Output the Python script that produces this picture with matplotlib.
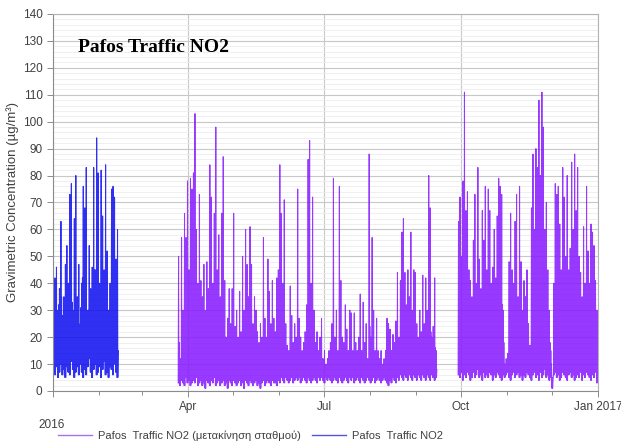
import numpy as np
import pandas as pd
import matplotlib
matplotlib.use('Agg')
import matplotlib.pyplot as plt
import matplotlib.dates as mdates
from matplotlib.lines import Line2D

# --- Données (valeurs journalières approx.) ---
blue_start = '2016-01-01'
blue_peak = [14, 42, 46, 30, 38, 63, 28, 35, 47, 54,
             40, 73, 77, 30, 64, 80, 35, 47, 25, 40,
             76, 68, 83, 30, 54, 38, 46, 83, 45, 94,
             81, 40, 82, 65, 45, 84, 52, 30, 40, 75,
             76, 72, 49, 60]
blue_mid = [12, 28, 18, 32, 25, 35, 22, 30, 27, 38,
            24, 40, 33, 21, 36, 29, 26, 19, 31, 42,
            28, 35, 24, 30, 37, 22, 34, 45, 29, 38,
            32, 25, 40, 27, 33, 36, 23, 30, 28, 35,
            41, 26, 32, 15]
blue_low = [8, 6, 9, 5, 7, 10, 6, 8, 5, 9,
            7, 6, 11, 8, 5, 7, 9, 6, 10, 7,
            5, 8, 6, 9, 12, 7, 5, 8, 10, 6,
            7, 9, 5, 8, 11, 6, 7, 5, 9, 8,
            6, 10, 7, 5]

purple_a_start = '2016-03-25'
purple_a_peak = [50, 12, 57, 30, 66, 57, 78, 45, 79, 75,
                 81, 103, 60, 40, 73, 41, 35, 47, 30, 48,
                 38, 84, 72, 40, 66, 98, 45, 58, 35, 66,
                 87, 41, 20, 27, 38, 25, 38, 66, 24, 30,
                 20, 37, 22, 50, 30, 60, 47, 35, 61, 47,
                 25, 35, 30, 22, 18, 25, 20, 57, 27, 20,
                 49, 37, 25, 41, 27, 22, 42, 45, 84, 66,
                 40, 71, 25, 17, 15, 39, 28, 18, 25, 20,
                 75, 27, 20, 15, 18, 22, 32, 86, 93, 40,
                 72, 30, 18, 22, 15, 20, 27, 12, 15, 10,
                 12, 15, 18, 25, 79, 20, 30, 15, 76, 41,
                 20, 18, 32, 23, 15, 30, 29, 15, 29, 18,
                 15, 20, 36, 15, 33, 18, 25, 12, 88, 20,
                 57, 30, 15, 27, 15, 12, 15, 10, 12, 15,
                 27, 25, 23, 15, 21, 18, 26, 44, 20, 41,
                 59, 64, 44, 32, 45, 35, 59, 30, 45, 44,
                 25, 20, 30, 22, 43, 25, 42, 30, 80, 68,
                 20, 24, 42, 15]
purple_a_mid = [18, 8, 25, 20, 30, 22, 28, 24, 32, 26,
                35, 30, 28, 22, 26, 18, 20, 24, 16, 22,
                20, 30, 26, 18, 25, 32, 20, 24, 18, 22,
                28, 20, 12, 15, 18, 14, 16, 22, 12, 15,
                10, 18, 12, 20, 14, 22, 18, 15, 24, 20,
                12, 16, 14, 10, 9, 12, 10, 18, 13, 10,
                20, 15, 11, 18, 12, 10, 16, 20, 25, 22,
                15, 24, 12, 9, 8, 15, 12, 9, 11, 10,
                22, 12, 9, 8, 10, 11, 14, 25, 28, 16,
                22, 12, 9, 10, 8, 10, 12, 7, 8, 6,
                7, 8, 10, 12, 20, 10, 14, 8, 22, 16,
                10, 9, 14, 11, 8, 13, 12, 8, 12, 9,
                8, 10, 15, 8, 14, 9, 11, 7, 24, 10,
                20, 13, 8, 12, 8, 7, 8, 6, 7, 8,
                12, 11, 10, 8, 10, 9, 12, 18, 10, 16,
                22, 24, 18, 14, 20, 15, 22, 13, 18, 17,
                12, 10, 14, 11, 18, 12, 17, 14, 25, 22,
                10, 12, 16, 8]
purple_a_low = [3, 2, 4, 3, 2, 5, 3, 4, 2, 3,
                4, 3, 5, 2, 3, 4, 2, 3, 1, 4,
                3, 2, 4, 3, 5, 2, 3, 4, 2, 3,
                4, 2, 3, 1, 4, 3, 2, 4, 3, 2,
                3, 4, 2, 3, 1, 4, 3, 2, 4, 3,
                2, 3, 4, 2, 3, 1, 3, 4, 2, 3,
                4, 3, 2, 4, 3, 3, 2, 4, 3, 5,
                4, 3, 5, 4, 3, 4, 5, 3, 4, 5,
                4, 5, 3, 4, 5, 4, 3, 5, 4, 3,
                4, 5, 4, 3, 5, 4, 5, 4, 3, 5,
                4, 5, 4, 3, 4, 5, 4, 3, 5, 4,
                3, 4, 5, 4, 3, 5, 4, 5, 3, 4,
                5, 4, 3, 5, 4, 3, 4, 5, 4, 3,
                4, 5, 3, 4, 5, 4, 3, 4, 5, 4,
                3, 2, 4, 3, 5, 4, 3, 5, 4, 6,
                5, 4, 6, 5, 4, 6, 5, 4, 6, 5,
                4, 6, 5, 4, 6, 5, 4, 6, 5, 4,
                6, 5, 4, 5]

purple_b_start = '2016-09-29'
purple_b_peak = [63, 72, 50, 78, 111, 67, 74, 45, 41, 35,
                 56, 73, 40, 83, 49, 38, 67, 56, 76, 45,
                 75, 67, 40, 46, 60, 42, 65, 79, 76, 73,
                 30, 10, 12, 14, 48, 66, 45, 40, 63, 73,
                 35, 76, 48, 30, 41, 35, 45, 25, 17, 68,
                 88, 60, 90, 83, 108, 80, 111, 98, 60, 70,
                 45, 30, 15, 5, 40, 77, 73, 76, 62, 45,
                 83, 72, 50, 80, 45, 53, 85, 60, 88, 67,
                 83, 50, 44, 35, 61, 40, 76, 52, 40, 62,
                 59, 54, 41, 30]
purple_b_mid = [30, 35, 28, 40, 38, 32, 36, 25, 22, 20,
                28, 35, 24, 38, 26, 22, 32, 28, 36, 25,
                34, 30, 22, 26, 30, 24, 32, 36, 34, 32,
                18, 7, 8, 9, 24, 30, 22, 20, 28, 34,
                20, 35, 25, 18, 22, 20, 24, 15, 10, 30,
                40, 32, 42, 38, 45, 36, 48, 42, 30, 34,
                25, 18, 10, 4, 20, 35, 32, 34, 30, 24,
                38, 32, 26, 36, 24, 28, 40, 30, 38, 32,
                36, 26, 22, 20, 30, 22, 34, 26, 22, 30,
                28, 26, 20, 15]
purple_b_low = [6, 5, 7, 4, 6, 5, 7, 6, 4, 5,
                7, 5, 6, 8, 5, 6, 4, 7, 5, 6,
                5, 7, 6, 4, 6, 5, 7, 6, 5, 4,
                6, 5, 6, 7, 5, 4, 6, 7, 5, 6,
                7, 5, 6, 4, 6, 5, 7, 6, 5, 4,
                6, 7, 5, 6, 4, 7, 5, 6, 8, 5,
                6, 4, 5, 1, 6, 7, 5, 6, 4, 5,
                7, 6, 5, 4, 6, 7, 5, 6, 4, 5,
                6, 5, 7, 4, 6, 5, 7, 6, 5, 4,
                6, 5, 7, 3]

label_purple = 'Pafos  Traffic NO2 (μετακίνηση σταθμού)'
label_blue = 'Pafos  Traffic NO2'
quarter_ticks = ['2016-01-01', '2016-04-01', '2016-07-01', '2016-10-01', '2017-01-01']
quarter_labels = ['', 'Apr', 'Jul', 'Oct', 'Jan 2017']


def build_series(start, peak, mid, low):
    # profil journalier : creux, pointe, creux, pointe secondaire
    d0 = mdates.date2num(pd.Timestamp(start))
    n = len(peak)
    hours = np.array([0.1, 0.35, 0.55, 0.8])
    t = d0 + np.arange(n)[:, None] + hours[None, :]
    v = np.column_stack([low, peak, low, mid])
    return t.ravel(), v.ravel()


# --- Figure ---
plt.rcParams['font.family'] = ['Liberation Sans', 'DejaVu Sans']
fig = plt.figure(figsize=(6.21, 4.43), dpi=100)
ax = fig.add_axes([0.0853, 0.1174, 0.8776, 0.8510])

purple = '#8516ff'
blue = '#0c0cf0'
for start, pk, md, lo in [(purple_a_start, purple_a_peak, purple_a_mid, purple_a_low),
                          (purple_b_start, purple_b_peak, purple_b_mid, purple_b_low)]:
    t, v = build_series(start, pk, md, lo)
    ax.plot(t, v, color=purple, lw=0.75, alpha=0.85)
t, v = build_series(blue_start, blue_peak, blue_mid, blue_low)
ax.plot(t, v, color=blue, lw=0.75, alpha=0.85)

ax.set_xlim(mdates.date2num(pd.Timestamp('2016-01-01')), mdates.date2num(pd.Timestamp('2017-01-01')))
ax.set_ylim(0, 140)

ax.set_xticks([mdates.date2num(pd.Timestamp(d)) for d in quarter_ticks])
ax.set_xticklabels(quarter_labels)
ax.xaxis.set_minor_locator(mdates.MonthLocator())
ax.set_yticks(np.arange(0, 141, 10))
ax.set_yticks(np.arange(0, 141, 2), minor=True)

ax.grid(True, which='major', axis='both', color='#c8c8c8', lw=0.8)
ax.grid(True, which='minor', axis='y', color='#ececec', lw=0.6)
ax.set_axisbelow(True)

for s in ax.spines.values():
    s.set_color('#b4b4b4')
    s.set_linewidth(0.8)
ax.spines['left'].set_color('#8c8c8c')
ax.spines['bottom'].set_color('#8c8c8c')
ax.tick_params(axis='both', which='major', colors='#8c8c8c', labelcolor='#404040',
               labelsize=8.5, length=4, width=0.7)
ax.tick_params(axis='x', which='minor', colors='#8c8c8c', length=3, width=0.7)
ax.tick_params(axis='y', which='minor', length=0)

ax.set_ylabel('Gravimetric Concentration (µg/m³)', fontsize=9.5, color='#404040', labelpad=3)
fig.text(52 / 621, 1 - 425 / 443, '2016', ha='center', va='center', fontsize=8.5, color='#404040')

ax.text(0.046, 0.912, 'Pafos Traffic NO2', transform=ax.transAxes, fontsize=14,
        fontweight='bold', family='Liberation Serif', ha='left', va='center', color='black')

handles = [Line2D([], [], color='#a672ec', lw=1.0),
           Line2D([], [], color='#5454dc', lw=1.0)]
fig.legend(handles, [label_purple, label_blue], loc='lower left', ncol=2,
           bbox_to_anchor=(0.078, -0.018), frameon=False, fontsize=8,
           handlelength=3.0, handletextpad=0.6, columnspacing=1.0, labelcolor='#404040')

fig.savefig('out.png', dpi=100)
